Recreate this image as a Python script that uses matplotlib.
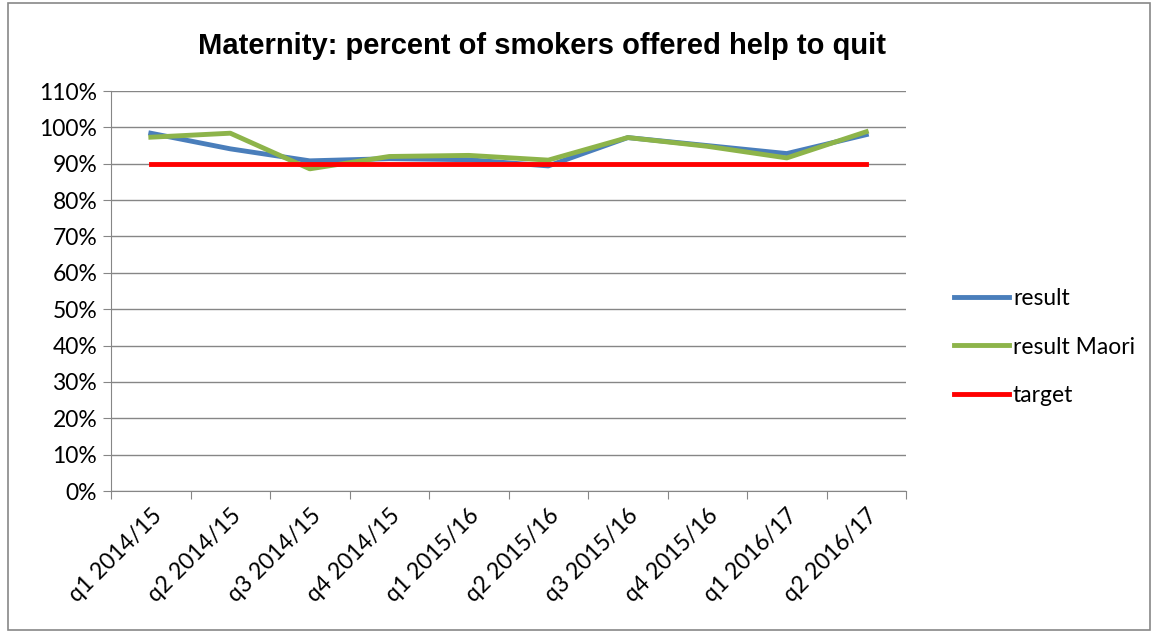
import numpy as np
import matplotlib.pyplot as plt
from matplotlib.patches import Rectangle
from matplotlib.ticker import PercentFormatter

quarters = ['q1 2014/15', 'q2 2014/15', 'q3 2014/15', 'q4 2014/15', 'q1 2015/16',
            'q2 2015/16', 'q3 2015/16', 'q4 2015/16', 'q1 2016/17', 'q2 2016/17']
result = [98.4, 94.1, 90.8, 91.4, 91.1, 89.4, 97.2, 95.0, 92.8, 98.0]
result_maori = [97.3, 98.4, 88.6, 92.0, 92.3, 91.0, 97.2, 94.8, 91.6, 98.8]
target = [90, 90, 90, 90, 90, 90, 90, 90, 90, 90]

plt.rcParams['font.family'] = ['Lato', 'DejaVu Sans']

fig = plt.figure(figsize=(11.58, 6.33), dpi=100)
ax = fig.add_axes([0.0959, 0.2243, 0.6865, 0.6319])

# chart border
fig.patches.append(Rectangle((0.007, 0.005), 0.986, 0.99, transform=fig.transFigure,
                             fill=False, edgecolor='#888888', linewidth=1.2))

x = np.arange(len(quarters))
ax.plot(x, result, color='#4a7ebb', linewidth=3.5, label='result', zorder=3)
ax.plot(x, result_maori, color='#8db44a', linewidth=3.5, label='result Maori', zorder=4)
ax.plot(x, target, color='#ff0000', linewidth=3.5, label='target', zorder=5)

ax.set_xlim(-0.5, len(quarters) - 0.5)
ax.set_ylim(0, 110)
ax.set_yticks(np.arange(0, 111, 10))
ax.yaxis.set_major_formatter(PercentFormatter(decimals=0))
ax.grid(axis='y', color='#868686', linewidth=1)
ax.set_axisbelow(True)

ax.set_xticks(np.arange(-0.5, len(quarters), 1))
ax.set_xticklabels([])
ax.set_xticks(x, minor=True)
ax.set_xticklabels(quarters, minor=True, rotation=45, ha='right', rotation_mode='anchor',
                   fontsize=16.5)
ax.tick_params(axis='x', which='minor', length=0, pad=10)
ax.tick_params(axis='x', which='major', length=6, color='#868686')
ax.tick_params(axis='y', length=6, color='#868686', labelsize=16.5, pad=4)

for side in ['top', 'right']:
    ax.spines[side].set_visible(False)
for side in ['left', 'bottom']:
    ax.spines[side].set_color('#868686')

fig.text(0.468, 0.927, 'Maternity: percent of smokers offered help to quit',
         ha='center', va='center', fontsize=21, fontweight='bold', family=['Liberation Sans'])

ax.legend(loc='center left', bbox_to_anchor=(1.035, 0.36), frameon=False, fontsize=16.5,
          handlelength=2.4, handletextpad=0.15, labelspacing=1.2)

fig.savefig('out.png', dpi=100)
